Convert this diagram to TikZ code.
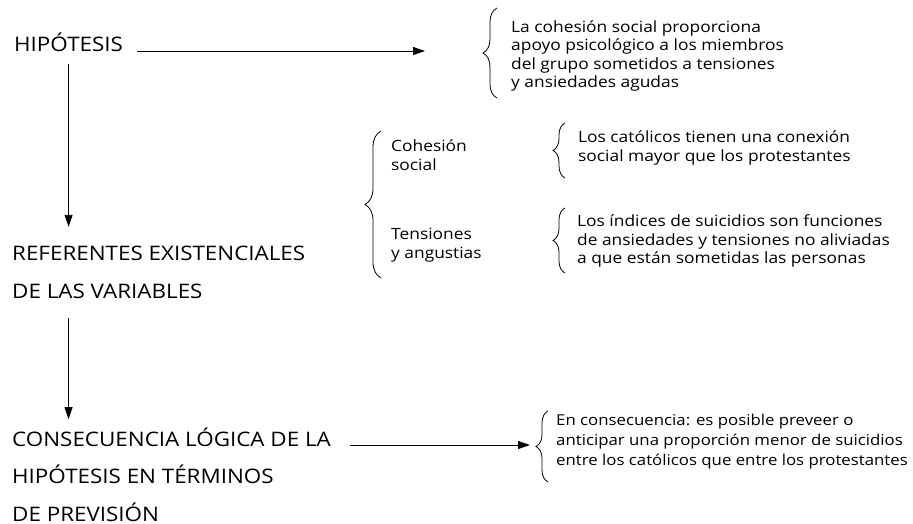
\documentclass[tikz,border=0pt]{standalone}
\usepackage{fontspec}
\setmainfont[FakeStretch=1.12]{Open Sans}
\usetikzlibrary{arrows.meta,decorations.pathreplacing,positioning,calc}
\tikzstyle{title}=[anchor=base west, inner sep=0pt, align=left, font=\fontsize{20}{37.5}\selectfont]
\tikzstyle{note}=[anchor=west, inner sep=0pt, align=left, font=\fontsize{15.5}{18.5}\selectfont]
\tikzstyle{flow}=[line width=0.9pt, -{Triangle[length=12pt,width=8pt]}]
% brace: name, x of ends, top, bottom, amplitude
\newcommand{\sideBrace}[5]{
	\draw[line width=0.8pt, decorate, decoration={brace, amplitude=#5}] (#2,#4) -- (#2,#3);
	\coordinate (#1) at ($(#2,#3)!.5!(#2,#4)+(-#5/1pt,0)$);
}

\begin{document}
\begin{tikzpicture}[x=1pt, y=-1pt]
	\useasboundingbox (0,0) rectangle (913,524);
	% left column
	\node[title] (hyp) at (14,52) {HIPÓTESIS};
	\node[title] (ref) at (12,298) {REFERENTES EXISTENCIALES\\DE LAS VARIABLES};
	\node[title] (cons) at (12,521) {CONSECUENCIA LÓGICA DE LA\\HIPÓTESIS EN TÉRMINOS\\DE PREVISIÓN};
	% braces
	\sideBrace{t1}{497}{8}{98}{14}
	\sideBrace{t2}{381}{131}{278}{16}
	\sideBrace{t3}{565}{123}{178}{12}
	\sideBrace{t4}{565}{208}{273}{12}
	\sideBrace{t5}{548}{411}{482}{12}
	% texts
	\node[note] (n1) at (511,56) {La cohesión social proporciona\\apoyo psicológico a los miembros\\del grupo sometidos a tensiones\\y ansiedades agudas};
	\node[note] (coh) at (391,155) {Cohesión\\social};
	\node[note] (ten) at (391,245) {Tensiones\\y angustias};
	\node[note] (n2) at (578,148) {Los católicos tienen una conexión\\social mayor que los protestantes};
	\node[note] (n3) at (577,241) {Los índices de suicidios son funciones\\de ansiedades y tensiones no aliviadas\\a que están sometidas las personas};
	\node[note, font=\fontsize{15}{20}\selectfont] (n4) at (556,442) {En consecuencia: es posible preveer o\\anticipar una proporción menor de suicidios\\entre los católicos que entre los protestantes};
	% arrows
	\coordinate (s1) at (137,51);
	\coordinate (s3) at (350,445);
	\draw[flow] (s1) -- ([xshift=-58pt]s1 -| t1);
	\draw[flow] (s3) -- ([xshift=-6pt]s3 -| t5);
	\draw[flow] ([yshift=-12pt]hyp.south) -- ([yshift=19pt]hyp.south |- ref.north);
	\draw[flow] ([yshift=-20pt]hyp.south |- ref.south) -- ([yshift=8pt]hyp.south |- cons.north);
\end{tikzpicture}
\end{document}
